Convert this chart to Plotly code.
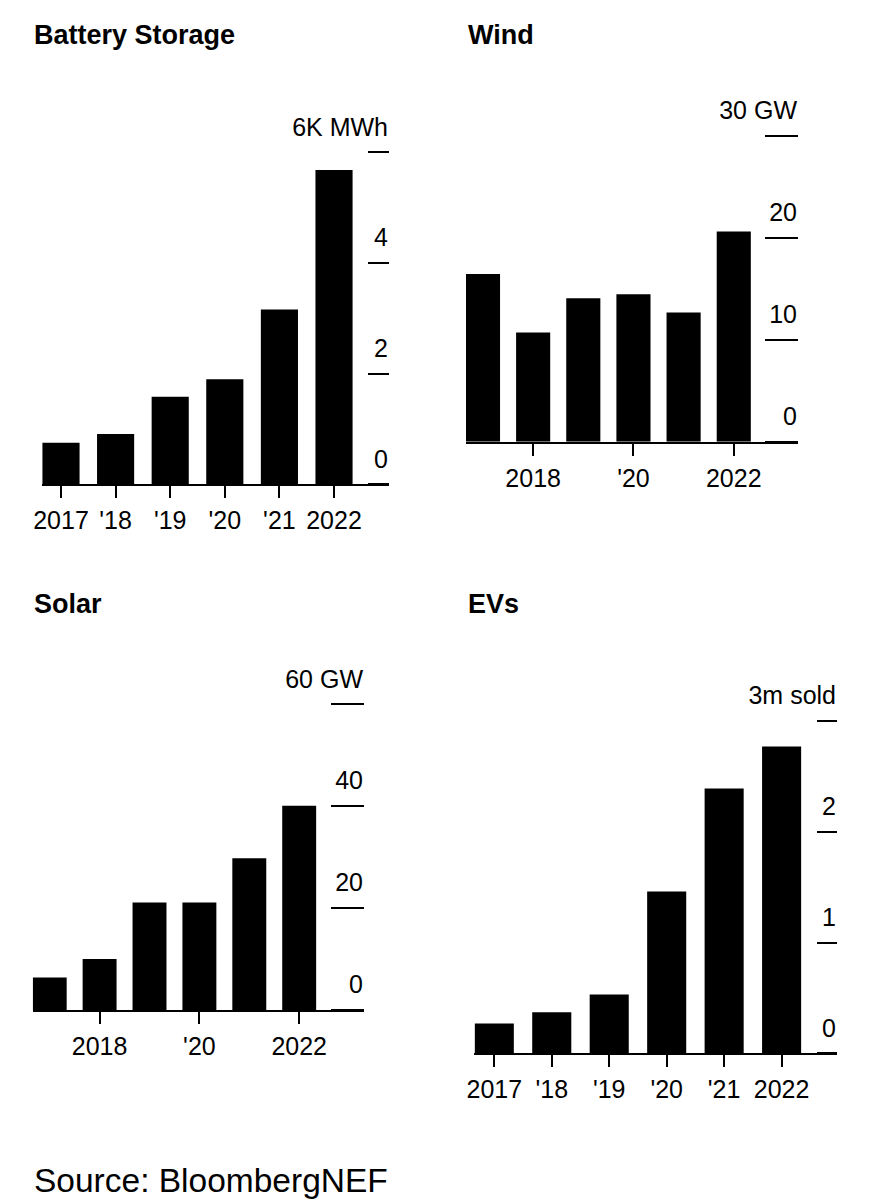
import plotly.graph_objects as go

years = [2017, 2018, 2019, 2020, 2021, 2022]

battery_mwh_k = [0.75, 0.91, 1.58, 1.90, 3.16, 5.68]
wind_gw = [16.45, 10.7, 14.07, 14.46, 12.67, 20.6]
solar_gw = [6.4, 10.0, 21.1, 21.1, 29.8, 40.1]
ev_m_sold = [0.27, 0.37, 0.53, 1.46, 2.39, 2.77]

titles = ["Battery Storage", "Wind", "Solar", "EVs"]

full_xticks = [2017, 2018, 2019, 2020, 2021, 2022]
full_xlabels = ["2017", "'18", "'19", "'20", "'21", "2022"]
short_xticks = [2018, 2020, 2022]
short_xlabels = ["2018", "'20", "2022"]

battery_yticks = [0, 2, 4, 6]
battery_ylabels = ["0", "2", "4", "6K MWh"]
wind_yticks = [0, 10, 20, 30]
wind_ylabels = ["0", "10", "20", "30 GW"]
solar_yticks = [0, 20, 40, 60]
solar_ylabels = ["0", "20", "40", "60 GW"]
ev_yticks = [0, 1, 2, 3]
ev_ylabels = ["0", "1", "2", "3m sold"]

OFF = 8  # browser body margin
W, H = 883 - OFF, 1200 - OFF
FONT = "Liberation Sans, Arial, Helvetica, sans-serif"


def fx(px):
    return (px - OFF) / W


def fy(py):
    return 1 - (py - OFF) / H


panels = [
    dict(vals=battery_mwh_k, px=(42, 389), py=(484.3, 152.3), xr=(2016.652, 2023.007),
         yr=(0, 6), xt=full_xticks, xl=full_xlabels, yt=battery_yticks, yl=battery_ylabels, tl=21),
    dict(vals=wind_gw, px=(466, 798), py=(441.7, 135.7), xr=(2016.661, 2023.281),
         yr=(0, 30), xt=short_xticks, xl=short_xlabels, yt=wind_yticks, yl=wind_ylabels, tl=33),
    dict(vals=solar_gw, px=(32.7, 364), py=(1010, 704.3), xr=(2016.659, 2023.299),
         yr=(0, 60), xt=short_xticks, xl=short_xlabels, yt=solar_yticks, yl=solar_ylabels, tl=33),
    dict(vals=ev_m_sold, px=(474.3, 837), py=(1053.3, 721), xr=(2016.652, 2022.964),
         yr=(0, 3), xt=full_xticks, xl=full_xlabels, yt=ev_yticks, yl=ev_ylabels, tl=20),
]

fig = go.Figure()
layout = dict(
    width=W, height=H, margin=dict(l=0, r=0, t=0, b=0),
    paper_bgcolor="white", plot_bgcolor="white", showlegend=False,
    font=dict(family=FONT, size=25, color="black"),
)

for i, p in enumerate(panels, start=1):
    xa = "x" if i == 1 else f"x{i}"
    ya = "y" if i == 1 else f"y{i}"
    fig.add_trace(go.Bar(x=years, y=p["vals"], width=0.68, marker=dict(color="black", line=dict(width=0)),
                         xaxis=xa, yaxis=ya, hoverinfo="skip"))
    xkey = "xaxis" if i == 1 else f"xaxis{i}"
    ykey = "yaxis" if i == 1 else f"yaxis{i}"
    layout[xkey] = dict(
        domain=[fx(p["px"][0]), fx(p["px"][1])], anchor=ya, range=list(p["xr"]),
        tickmode="array", tickvals=p["xt"], ticktext=p["xl"],
        showline=True, linecolor="black", linewidth=2,
        ticks="outside", ticklen=12, tickwidth=2, tickcolor="black",
        showgrid=False, zeroline=False, automargin=False, fixedrange=True,
        tickfont=dict(size=25, color="black", family=FONT), ticklabelstandoff=1,
    )
    # y axis drawn as a "left" axis placed at the right edge of the panel,
    # so its outside ticks point into the panel and labels sit right-aligned above them
    layout[ykey] = dict(
        domain=[fy(p["py"][0]), fy(p["py"][1])], anchor="free", position=fx(p["px"][1]),
        side="left", range=list(p["yr"]),
        tickmode="array", tickvals=p["yt"], ticktext=p["yl"],
        ticks="outside", ticklen=p["tl"], tickwidth=2, tickcolor="black",
        ticklabelposition="outside top", ticklabelstandoff=-4, ticklabelshift=-7,
        showline=False, showgrid=False, zeroline=False, automargin=False, fixedrange=True,
        tickfont=dict(size=25, color="black", family=FONT),
    )

title_pos = [(32, 35), (466, 35), (32, 604), (466, 604)]
annotations = []
for t, (tx, ty) in zip(titles, title_pos):
    annotations.append(dict(text=f"<b>{t}</b>", x=fx(tx), y=fy(ty), xref="paper", yref="paper",
                            xanchor="left", yanchor="middle", showarrow=False,
                            font=dict(size=27, color="black", family=FONT)))
annotations.append(dict(text="Source: BloombergNEF", x=fx(32), y=fy(1180), xref="paper", yref="paper",
                        xanchor="left", yanchor="middle", showarrow=False,
                        font=dict(size=33.5, color="black", family=FONT)))
layout["annotations"] = annotations
fig.update_layout(**layout)
fig.write_html("out.html")
